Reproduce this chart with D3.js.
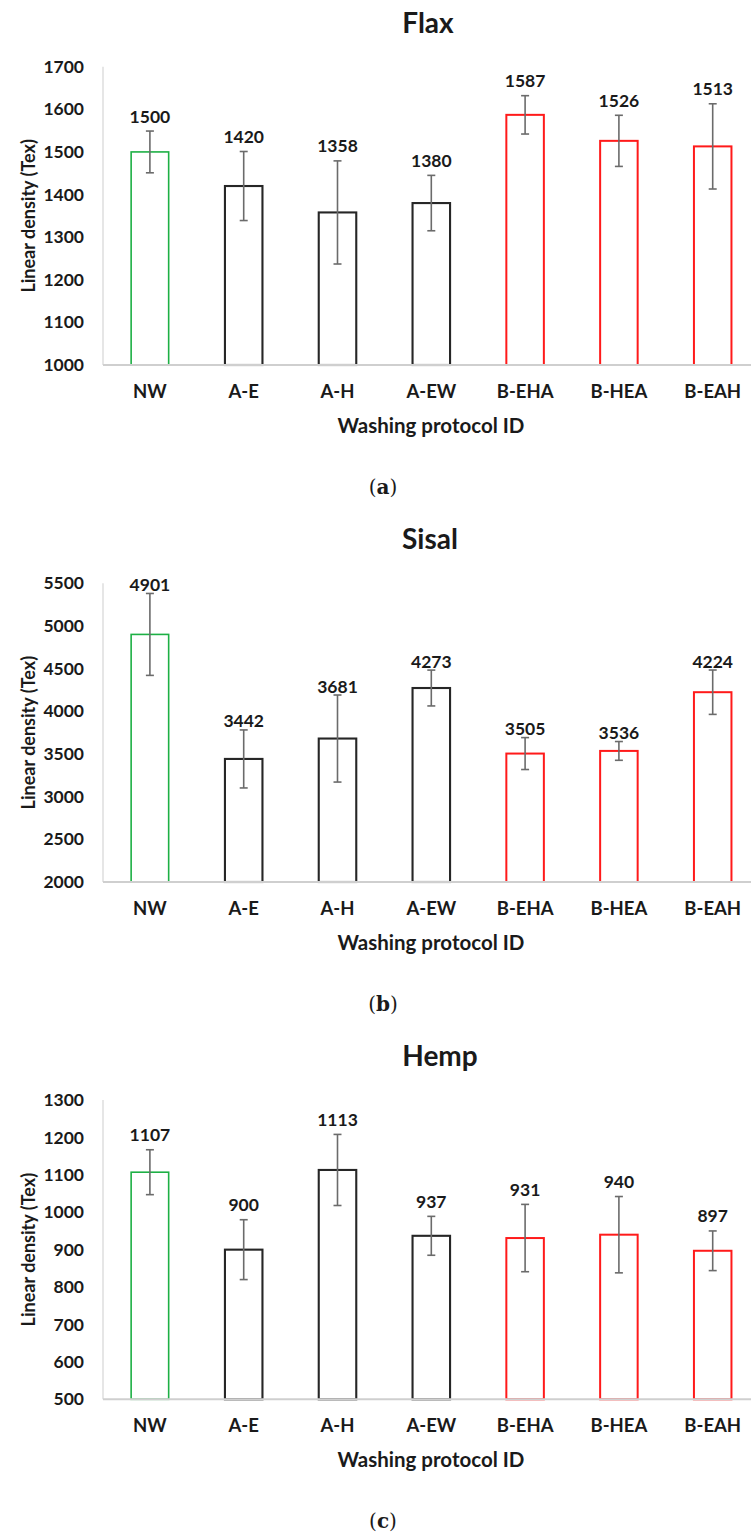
<!DOCTYPE html>
<html>
<head>
<meta charset="utf-8">
<script src="https://cdn.jsdelivr.net/npm/d3@7"></script>
<style>
  html, body { margin: 0; padding: 0; background: #fff; }
  svg { display: block; }
  text { font-family: Lato, "Open Sans", sans-serif; font-weight: bold; fill: #1a1a1a; }
</style>
</head>
<body>
<svg id="chart"></svg>
<script>
// protocols on the x axis, and which family each belongs to
const categories = ['NW', 'A-E', 'A-H', 'A-EW', 'B-EHA', 'B-HEA', 'B-EAH'];
const families = ['none', 'A', 'A', 'A', 'B', 'B', 'B'];

const flaxValues = [1500, 1420, 1358, 1380, 1587, 1526, 1513];
const flaxErrors = [49, 81, 121, 65, 45, 60, 100];
const flaxTicks = [1000, 1100, 1200, 1300, 1400, 1500, 1600, 1700];

const sisalValues = [4901, 3442, 3681, 4273, 3505, 3536, 4224];
const sisalErrors = [480, 340, 510, 210, 187, 110, 260];
const sisalTicks = [2000, 2500, 3000, 3500, 4000, 4500, 5000, 5500];

const hempValues = [1107, 900, 1113, 937, 931, 940, 897];
const hempErrors = [60, 80, 95, 52, 90, 102, 53];
const hempTicks = [500, 600, 700, 800, 900, 1000, 1100, 1200, 1300];

const width = 751;
const height = 1535;

const color = d3.scaleOrdinal()
  .domain(['none', 'A', 'B'])
  .range(['#1db045', '#262626', '#ff1a1a']);
const strokeW = { none: 1.6, A: 2.1, B: 2 };

const panels = [
  { title: 'Flax', tag: 'a', values: flaxValues, errors: flaxErrors, ticks: flaxTicks,
    top: 66.7, bottom: 365, titleX: 428, titleY: 22, labelGap: 15 },
  { title: 'Sisal', tag: 'b', values: sisalValues, errors: sisalErrors, ticks: sisalTicks,
    top: 583.3, bottom: 882, titleX: 430, titleY: 538, labelGap: 9 },
  { title: 'Hemp', tag: 'c', values: hempValues, errors: hempErrors, ticks: hempTicks,
    top: 1100, bottom: 1399.3, titleX: 440, titleY: 1055, labelGap: 15 },
];

const svg = d3.select('#chart')
  .attr('width', width)
  .attr('height', height)
  .attr('viewBox', `0 0 ${width} ${height}`);

const axisX = 103;
const x = d3.scaleBand()
  .domain(categories)
  .range([axisX, axisX + 7 * 93.8])
  .padding(0);
const barW = x.bandwidth() * 0.4;

panels.forEach((p) => {
  const g = svg.append('g').attr('class', `panel-${p.tag}`);
  const rows = categories.map((c, i) => ({
    cat: c, fam: families[i], value: p.values[i], err: p.errors[i],
  }));

  const y = d3.scaleLinear()
    .domain([p.ticks[0], p.ticks[p.ticks.length - 1]])
    .range([p.bottom, p.top]);

  // title
  g.append('text')
    .attr('x', p.titleX)
    .attr('y', p.titleY)
    .attr('text-anchor', 'middle')
    .attr('dominant-baseline', 'central')
    .style('font-size', '28px')
    .text(p.title);

  // y axis
  g.append('g')
    .attr('transform', `translate(${axisX},0)`)
    .call(d3.axisLeft(y).tickValues(p.ticks).tickSize(0).tickPadding(19).tickFormat(d3.format('d')))
    .call((sel) => {
      sel.select('.domain').remove();
      sel.selectAll('text')
        .style('font-size', '17.5px')
        .style('font-family', 'Lato, sans-serif')
        .style('font-weight', 'bold')
        .attr('fill', '#1a1a1a');
    });

  g.append('line')
    .attr('x1', axisX).attr('x2', axisX)
    .attr('y1', p.top).attr('y2', p.bottom)
    .attr('stroke', '#d6d6d6')
    .attr('stroke-width', 1.2);

  // bars
  g.selectAll('rect.bar')
    .data(rows)
    .join('rect')
    .attr('class', 'bar')
    .attr('x', (d) => x(d.cat) + (x.bandwidth() - barW) / 2)
    .attr('y', (d) => y(d.value))
    .attr('width', barW)
    .attr('height', (d) => y.range()[0] - y(d.value))
    .attr('fill', '#fff')
    .attr('stroke', (d) => color(d.fam))
    .attr('stroke-width', (d) => strokeW[d.fam]);

  // x axis
  g.append('g')
    .attr('transform', `translate(0,${p.bottom})`)
    .call(d3.axisBottom(x).tickSize(0).tickPadding(20))
    .call((sel) => {
      sel.select('.domain').remove();
      sel.selectAll('text')
        .style('font-size', '18.5px')
        .style('font-family', 'Lato, sans-serif')
        .style('font-weight', 'bold')
        .attr('fill', '#1a1a1a');
    });

  g.append('line')
    .attr('x1', axisX).attr('x2', width)
    .attr('y1', p.bottom).attr('y2', p.bottom)
    .attr('stroke', '#cfcfcf')
    .attr('stroke-width', 2);

  // error bars
  const eb = g.selectAll('g.err')
    .data(rows)
    .join('g')
    .attr('class', 'err')
    .attr('stroke', '#6b6b6b')
    .attr('stroke-width', 1.6);
  const cx = (d) => x(d.cat) + x.bandwidth() / 2;
  eb.append('line')
    .attr('x1', cx).attr('x2', cx)
    .attr('y1', (d) => y(d.value + d.err))
    .attr('y2', (d) => y(d.value - d.err));
  eb.append('line')
    .attr('x1', (d) => cx(d) - 4).attr('x2', (d) => cx(d) + 4)
    .attr('y1', (d) => y(d.value + d.err))
    .attr('y2', (d) => y(d.value + d.err));
  eb.append('line')
    .attr('x1', (d) => cx(d) - 4).attr('x2', (d) => cx(d) + 4)
    .attr('y1', (d) => y(d.value - d.err))
    .attr('y2', (d) => y(d.value - d.err));

  // value labels
  g.selectAll('text.val')
    .data(rows)
    .join('text')
    .attr('class', 'val')
    .attr('x', cx)
    .attr('y', (d) => y(d.value + d.err) - p.labelGap)
    .attr('text-anchor', 'middle')
    .attr('dominant-baseline', 'central')
    .style('font-size', '17.5px')
    .text((d) => d.value);

  // axis titles
  g.append('text')
    .attr('transform', `translate(28,${(p.top + p.bottom) / 2}) rotate(-90)`)
    .attr('text-anchor', 'middle')
    .attr('dominant-baseline', 'central')
    .style('font-size', '18px')
    .text('Linear density (Tex)');

  g.append('text')
    .attr('x', 431)
    .attr('y', p.bottom + 60)
    .attr('text-anchor', 'middle')
    .attr('dominant-baseline', 'central')
    .style('font-size', '20.5px')
    .text('Washing protocol ID');

  // sub-figure tag
  const tag = g.append('text')
    .attr('x', 383)
    .attr('y', p.bottom + 122)
    .attr('text-anchor', 'middle')
    .attr('dominant-baseline', 'central')
    .style('font-family', '"DejaVu Serif", "Liberation Serif", serif')
    .style('font-weight', 'normal')
    .style('font-size', '20px');
  tag.append('tspan').text('(');
  tag.append('tspan').style('font-weight', 'bold').text(p.tag);
  tag.append('tspan').text(')');
});
</script>
</body>
</html>
